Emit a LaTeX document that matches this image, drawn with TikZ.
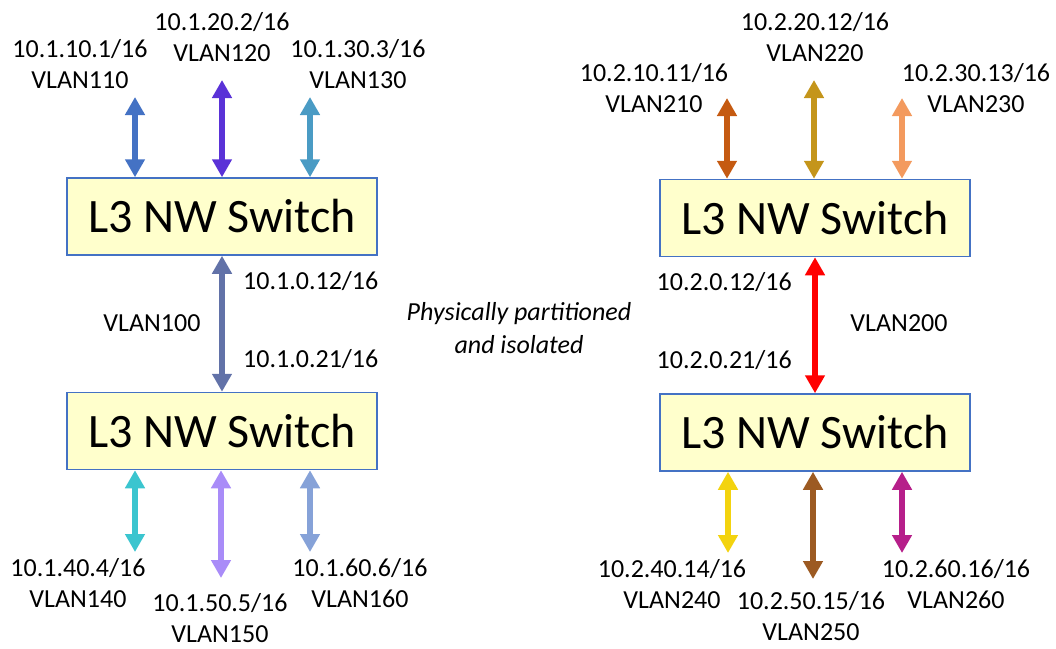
\documentclass[tikz,border=0pt]{standalone}
\usepackage{fontspec}
\setmainfont{Carlito}
\usetikzlibrary{arrows.meta}
\definecolor{boxfill}{HTML}{FFFFCC}
\definecolor{boxline}{HTML}{4472C4}
\definecolor{c100}{HTML}{6272A8}
\definecolor{c110}{HTML}{4472C4}
\definecolor{c120}{HTML}{5A32D7}
\definecolor{c130}{HTML}{4A9BC4}
\definecolor{c140}{HTML}{3BC5CF}
\definecolor{c150}{HTML}{A98CF8}
\definecolor{c160}{HTML}{86A2D8}
\definecolor{c200}{HTML}{FF0000}
\definecolor{c210}{HTML}{C55A11}
\definecolor{c220}{HTML}{C4951B}
\definecolor{c230}{HTML}{F39A5E}
\definecolor{c240}{HTML}{F3D30F}
\definecolor{c250}{HTML}{9C5A22}
\definecolor{c260}{HTML}{B61F8A}
\begin{document}
\begin{tikzpicture}[x=1pt,y=-1pt,
    switchbox/.style={draw=boxline,fill=boxfill,line width=1.5pt,minimum width=310pt,minimum height=77pt,inner sep=0pt,font=\fontsize{48}{58}\selectfont},
    lbl/.style={align=center,inner sep=0pt,font=\fontsize{26}{31}\selectfont},
    link/.style={draw=#1,line width=6pt,{Triangle[width=19pt,length=18pt]}-{Triangle[width=19pt,length=18pt]}}]
    \useasboundingbox (0,0) rectangle (1056,648);
    % switches
    \node[switchbox] (sw1) at (222,216.5) {L3 NW Switch};
    \node[switchbox] (sw2) at (222,431) {L3 NW Switch};
    \node[switchbox] (sw3) at (815,218) {L3 NW Switch};
    \node[switchbox] (sw4) at (815,432.5) {L3 NW Switch};
    % free arrow ends
    \coordinate (t110) at (135,97);
    \coordinate (t120) at (222,80);
    \coordinate (t130) at (310,97);
    \coordinate (t140) at (135,552);
    \coordinate (t150) at (221,578);
    \coordinate (t160) at (310,552);
    \coordinate (t210) at (727,98);
    \coordinate (t220) at (814,80);
    \coordinate (t230) at (902,98);
    \coordinate (t240) at (728,553);
    \coordinate (t250) at (813,579);
    \coordinate (t260) at (902,553);
    % links
    \draw[link=c110] (t110) -- (t110 |- sw1.north);
    \draw[link=c120] (t120) -- (t120 |- sw1.north);
    \draw[link=c130] (t130) -- (t130 |- sw1.north);
    \draw[link=c100] (sw1) -- (sw2);
    \draw[link=c140] (t140) -- (t140 |- sw2.south);
    \draw[link=c150] (t150) -- (t150 |- sw2.south);
    \draw[link=c160] (t160) -- (t160 |- sw2.south);
    \draw[link=c210] (t210) -- (t210 |- sw3.north);
    \draw[link=c220] (t220) -- (t220 |- sw3.north);
    \draw[link=c230] (t230) -- (t230 |- sw3.north);
    \draw[link=c200] (sw3) -- (sw4);
    \draw[link=c240] (t240) -- (t240 |- sw4.south);
    \draw[link=c250] (t250) -- (t250 |- sw4.south);
    \draw[link=c260] (t260) -- (t260 |- sw4.south);
    % labels
    \node[lbl] (l110) at (80,64) {10.1.10.1/16\\VLAN110};
    \node[lbl] (l120) at (222,37) {10.1.20.2/16\\VLAN120};
    \node[lbl] (l130) at (358,64) {10.1.30.3/16\\VLAN130};
    \node[lbl] (l140) at (78,583) {10.1.40.4/16\\VLAN140};
    \node[lbl] (l150) at (220,618) {10.1.50.5/16\\VLAN150};
    \node[lbl] (l160) at (360,583) {10.1.60.6/16\\VLAN160};
    \node[lbl] (l100) at (152,323) {VLAN100};
    \node[lbl,anchor=west] (a1) at (243,281) {10.1.0.12/16};
    \node[lbl,anchor=west] (a2) at (243,359) {10.1.0.21/16};
    \node[lbl] (l210) at (654,88) {10.2.10.11/16\\VLAN210};
    \node[lbl] (l220) at (815,37) {10.2.20.12/16\\VLAN220};
    \node[lbl] (l230) at (976,88) {10.2.30.13/16\\VLAN230};
    \node[lbl] (l240) at (672,584) {10.2.40.14/16\\VLAN240};
    \node[lbl] (l250) at (811,616) {10.2.50.15/16\\VLAN250};
    \node[lbl] (l260) at (956,584) {10.2.60.16/16\\VLAN260};
    \node[lbl] (l200) at (899,323) {VLAN200};
    \node[lbl,anchor=east] (b1) at (792,282) {10.2.0.12/16};
    \node[lbl,anchor=east] (b2) at (792,360) {10.2.0.21/16};
    \node[lbl,font=\fontsize{26}{33}\selectfont\itshape] (iso) at (519,328) {Physically partitioned\\and isolated};
\end{tikzpicture}
\end{document}
